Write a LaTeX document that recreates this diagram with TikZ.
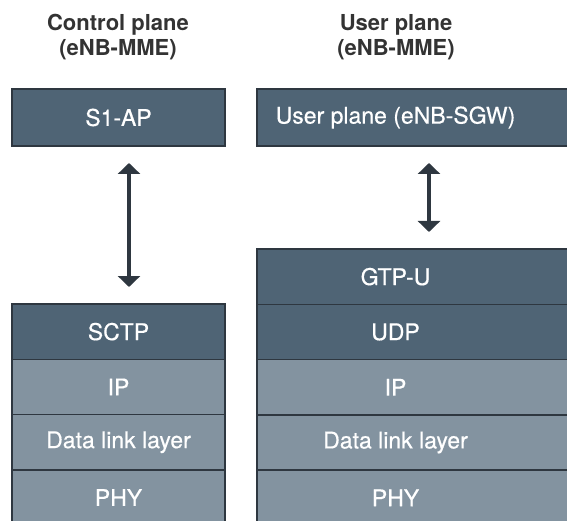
\documentclass[tikz,border=0pt]{standalone}
\usepackage{fontspec}
\setmainfont{TeX Gyre Heros}
\newfontfamily\layerfont[FakeBold=0.5]{TeX Gyre Heros}
\usetikzlibrary{positioning}
\usetikzlibrary{arrows.meta}
\definecolor{slate}{HTML}{4F6475}
\definecolor{lightslate}{HTML}{8393A0}
\definecolor{edge}{HTML}{2E3740}
\definecolor{heading}{HTML}{333333}

\begin{document}
\begin{tikzpicture}[
            x = 1pt, y = -1pt, % pixel units, y going down
            > = {Triangle[width=22pt,length=11pt]}, % arrow head style
            semithick % line style
        ]

        \tikzstyle{layer}=[
            draw = edge,
            line width = 1.5pt,
            text = white,
            outer sep = 0pt,
            minimum height = 55.3pt,
            font = \layerfont\fontsize{23}{27}\selectfont
        ]
        \tikzstyle{upper}=[layer, fill = slate]
        \tikzstyle{lower}=[layer, fill = lightslate]
        \tikzstyle{leftcol}=[minimum width = 213pt]
        \tikzstyle{rightcol}=[minimum width = 344pt, execute at end node = {\hspace*{67pt}}]
        \tikzstyle{title}=[text = heading, align = center, font = \fontsize{22}{25}\selectfont\bfseries]
        \tikzstyle{link}=[<->, draw = edge, line width = 3.5pt, shorten < = 17pt, shorten > = 17pt]

        \useasboundingbox (0,0) rectangle (567,521);

	% titles
        \node[title] (cptitle) at (118,37) {Control plane\\(eNB-MME)};
        \node[title] (uptitle) at (396,37) {User plane\\(eNB-MME)};

        % control plane
        \node[upper, leftcol, minimum height = 57pt] (s1ap) at (118.5,117.5) {S1-AP};
        \node[upper, leftcol, anchor = north] (sctp) at (118.5,304) {SCTP};
        \node[lower, leftcol, below = 0pt of sctp] (ipc) {IP};
        \node[lower, leftcol, below = 0pt of ipc] (dllc) {Data link layer};
        \node[lower, leftcol, below = 0pt of dllc] (phyc) {PHY};

        \draw[link] ([xshift=10.5pt]s1ap.south) -- ([xshift=10.5pt]sctp.north);

        % user plane
        \node[upper, rightcol, minimum height = 57pt] (sgw) at (429,117.5) {User plane (eNB-SGW)};
        \node[upper, rightcol, anchor = north] (gtpu) at (429,249) {GTP-U};
        \node[upper, rightcol, below = 0pt of gtpu] (udp) {UDP};
        \node[lower, rightcol, below = 0pt of udp] (ipu) {IP};
        \node[lower, rightcol, below = 0pt of ipu] (dllu) {Data link layer};
        \node[lower, rightcol, below = 0pt of dllu] (phyu) {PHY};

        \draw[link] (sgw.south) -- (gtpu.north);

  \end{tikzpicture}
\end{document}
